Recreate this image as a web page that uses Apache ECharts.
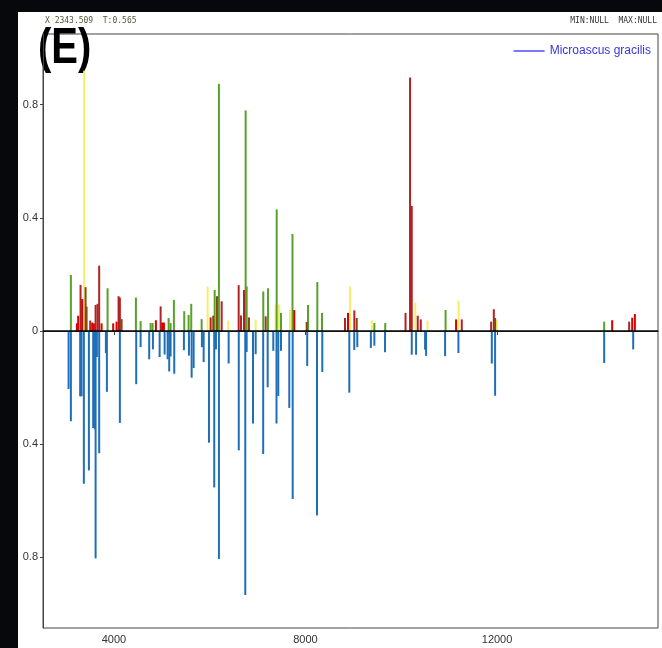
<!DOCTYPE html>
<html>
<head>
<meta charset="utf-8">
<script src="https://cdn.jsdelivr.net/npm/echarts@6/dist/echarts.min.js"></script>
<style>
  html, body { margin: 0; padding: 0; background: #07080b; }
  #panel { position: absolute; left: 18px; top: 12px; width: 644px; height: 636px; background: #fff; }
  #chart { position: absolute; left: 0; top: 0; width: 662px; height: 648px; }
</style>
</head>
<body>
<div id="panel"></div>
<div id="chart"></div>
<script>
// upper spectrum, by colour: [m/z, relative intensity]
var yellowPeaks = [[3380, 0.92], [5957, 0.157], [6388, 0.037], [6960, 0.04], [7378, 0.094], [7447, 0.094],
  [7677, 0.075], [8930, 0.158], [9383, 0.039], [10294, 0.10], [10549, 0.037], [11197, 0.107], [11995, 0.04]];
var greenPeaks = [[3102, 0.198], [3868, 0.151], [4460, 0.118], [4558, 0.035], [4767, 0.028], [4808, 0.028],
  [5143, 0.046], [5184, 0.028], [5253, 0.11], [5469, 0.07], [5560, 0.057], [5615, 0.096], [5832, 0.042],
  [6104, 0.145], [6193, 0.874], [6751, 0.78], [6772, 0.158], [7119, 0.14], [7217, 0.151], [7399, 0.43],
  [7489, 0.064], [7729, 0.343], [8053, 0.092], [8247, 0.173], [8345, 0.064], [9438, 0.028], [9665, 0.028],
  [10925, 0.074], [14236, 0.033]];
var darkRedPeaks = [[3304, 0.163], [3505, 0.037], [3618, 0.092], [3659, 0.096], [3693, 0.231], [4098, 0.123],
  [4125, 0.118], [4976, 0.087], [6020, 0.048], [6250, 0.105], [6605, 0.162], [6653, 0.055], [6716, 0.145],
  [8825, 0.046], [9020, 0.073], [10089, 0.064], [10183, 0.896], [10219, 0.442], [10344, 0.054],
  [10407, 0.041], [11263, 0.041], [11876, 0.033], [11932, 0.077], [14758, 0.033]];
var redPeaks = [[3227, 0.027], [3254, 0.054], [3338, 0.113], [3547, 0.03], [3582, 0.027], [3743, 0.027],
  [3985, 0.027], [4056, 0.033], [4877, 0.038], [5009, 0.03], [5045, 0.03], [7766, 0.074], [8888, 0.064],
  [11144, 0.041], [14403, 0.038], [14821, 0.047], [14877, 0.06]];
var brownPeaks = [[3409, 0.155], [3430, 0.086], [4161, 0.042], [6074, 0.054], [6152, 0.123], [6820, 0.048],
  [7169, 0.052], [8025, 0.032], [9070, 0.046], [11959, 0.046]];

// lower (reference) spectrum, drawn downward
var refPeaks = [[3054, 0.205], [3102, 0.319], [3296, 0.231], [3325, 0.231], [3373, 0.54], [3478, 0.493],
  [3568, 0.343], [3603, 0.347], [3618, 0.804], [3645, 0.092], [3693, 0.432], [3833, 0.078], [3854, 0.215],
  [4125, 0.325], [4466, 0.188], [4558, 0.057], [4737, 0.1], [4815, 0.065], [4955, 0.092], [5059, 0.083],
  [5122, 0.1], [5155, 0.143], [5184, 0.09], [5260, 0.151], [5462, 0.068], [5567, 0.087], [5623, 0.165],
  [5665, 0.131], [5838, 0.057], [5874, 0.11], [5985, 0.395], [6095, 0.553], [6131, 0.065], [6193, 0.806],
  [6396, 0.115], [6607, 0.422], [6743, 0.933], [6772, 0.074], [6904, 0.327], [6960, 0.082], [7117, 0.435],
  [7211, 0.199], [7328, 0.07], [7395, 0.327], [7432, 0.23], [7489, 0.07], [7662, 0.272], [7733, 0.594],
  [8036, 0.124], [8241, 0.652], [8351, 0.145], [8915, 0.218], [9018, 0.067], [9082, 0.057], [9365, 0.06],
  [9438, 0.052], [9661, 0.075], [10219, 0.084], [10309, 0.084], [10497, 0.066], [10518, 0.088],
  [10915, 0.089], [11193, 0.078], [11890, 0.115], [11959, 0.229], [14236, 0.113], [14842, 0.065]];

var xTicks = [4000, 8000, 12000];
var yTicks = [-0.8, -0.4, 0, 0.4, 0.8];
var legendName = 'Microascus gracilis';

function peakSeries(data, color) {
  return {
    type: 'bar',
    data: data,
    barWidth: 2,
    barGap: '-100%',
    itemStyle: { color: color },
    silent: true
  };
}

var chart = echarts.init(document.getElementById('chart'), null, { renderer: 'canvas' });

var downSeries = peakSeries(refPeaks.map(function (p) { return [p[0], -p[1]]; }), '#1f6fb8');
downSeries.markLine = {
  silent: true,
  symbol: ['none', 'none'],
  label: { show: false },
  lineStyle: { color: '#000', width: 1.5, type: 'solid' },
  data: [{ yAxis: 0 }]
};

var option = {
  backgroundColor: 'transparent',
  animation: false,
  grid: {
    left: 43, right: 4, top: 34, bottom: 20,
    show: true, borderColor: '#444', borderWidth: 1, backgroundColor: 'transparent'
  },
  legend: {
    right: 6, top: 40,
    icon: 'rect', itemWidth: 31, itemHeight: 2, itemGap: 6,
    textStyle: { color: '#3636e0', fontSize: 12, fontFamily: 'Liberation Sans' },
    data: [legendName]
  },
  xAxis: {
    type: 'value',
    min: 2520, max: 15360,
    splitLine: { show: false },
    axisLine: { show: true, lineStyle: { color: '#444' } },
    axisTick: { show: true, length: 4, customValues: xTicks, lineStyle: { color: '#444' } },
    axisLabel: {
      customValues: xTicks, color: '#333', fontSize: 11, margin: 6, fontFamily: 'Liberation Sans',
      formatter: function (v) { return String(v); }
    }
  },
  yAxis: {
    type: 'value',
    min: -1.05, max: 1.05,
    splitLine: { show: false },
    axisLine: { show: true, lineStyle: { color: '#444' } },
    axisTick: { show: true, length: 3, customValues: yTicks, lineStyle: { color: '#444' } },
    axisLabel: {
      customValues: yTicks, color: '#333', fontSize: 11, margin: 5, fontFamily: 'Liberation Sans',
      formatter: function (v) { return v === 0 ? '0' : String(Math.abs(v)); }
    }
  },
  graphic: [
    { type: 'text', left: 45, top: 17, style: { text: 'X 2343.509  T:0.565', fill: '#55553a', font: '8px DejaVu Sans Mono' } },
    { type: 'text', right: 5, top: 17, style: { text: 'MIN:NULL  MAX:NULL', fill: '#333', font: '8px DejaVu Sans Mono' } },
    { type: 'text', left: 38, top: 24, scaleX: 0.8, style: { text: '(E)', fill: '#000', font: 'bold 50px Liberation Sans' } }
  ],
  series: [
    peakSeries(yellowPeaks, '#f3ef6a'),
    peakSeries(greenPeaks, '#58a12a'),
    peakSeries(darkRedPeaks, '#b22222'),
    peakSeries(redPeaks, '#d80000'),
    peakSeries(brownPeaks, '#8b4513'),
    downSeries,
    { name: legendName, type: 'line', data: [], symbol: 'none', itemStyle: { color: '#7878ff' }, lineStyle: { color: '#7878ff' } }
  ]
};

chart.setOption(option);
</script>
</body>
</html>
